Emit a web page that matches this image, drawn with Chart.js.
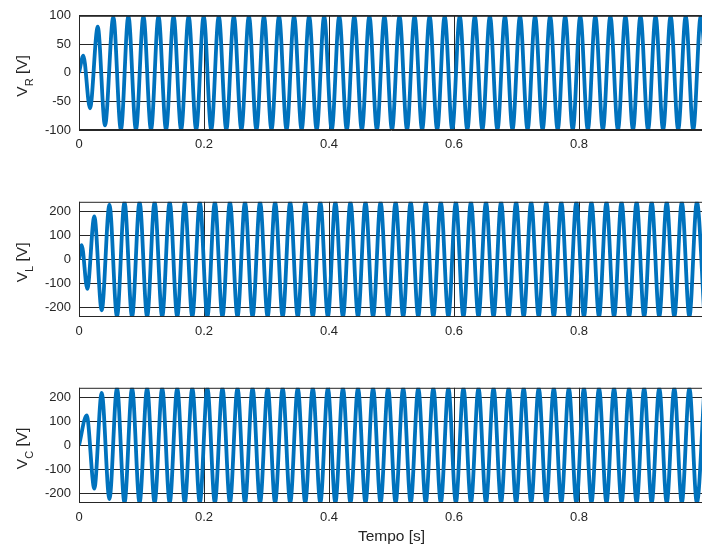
<!DOCTYPE html>
<html>
<head>
<meta charset="utf-8">
<script src="https://cdn.jsdelivr.net/npm/chart.js@4.4.1/dist/chart.umd.min.js"></script>
<style>
  html, body { margin: 0; padding: 0; background: #fff; overflow: hidden; width: 702px; height: 547px; }
  canvas { position: absolute; left: 0; }
</style>
</head>
<body>
<canvas id="chartR" width="720" height="165" style="top:0"></canvas>
<canvas id="chartL" width="720" height="166" style="top:186px"></canvas>
<canvas id="chartC" width="720" height="175" style="top:372px"></canvas>
<script>
// eixos
const xTicks = [0, 0.2, 0.4, 0.6, 0.8];
const yTicksR = [-100, -50, 0, 50, 100];
const yTicksLC = [-200, -100, 0, 100, 200];

// V_R: instantes dos picos/vales [s] e valores [V]
const timeR = [0, 0.0069, 0.0176, 0.0300, 0.0416,
  0.0549, 0.0670, 0.0790, 0.0911, 0.1031, 0.1152, 0.1272, 0.1393, 0.1513, 0.1634,
  0.1754, 0.1875, 0.1995, 0.2116, 0.2236, 0.2357, 0.2477, 0.2598, 0.2718, 0.2839,
  0.2959, 0.3080, 0.3200, 0.3321, 0.3441, 0.3562, 0.3682, 0.3803, 0.3923, 0.4044,
  0.4164, 0.4285, 0.4405, 0.4526, 0.4646, 0.4767, 0.4887, 0.5008, 0.5128, 0.5249,
  0.5369, 0.5490, 0.5610, 0.5731, 0.5851, 0.5972, 0.6092, 0.6213, 0.6333, 0.6454,
  0.6574, 0.6695, 0.6815, 0.6936, 0.7056, 0.7177, 0.7297, 0.7418, 0.7538, 0.7659,
  0.7779, 0.7900, 0.8020, 0.8141, 0.8261, 0.8382, 0.8502, 0.8623, 0.8743, 0.8864,
  0.8984, 0.9105, 0.9225, 0.9346, 0.9466, 0.9587, 0.9707, 0.9828, 0.9948, 1.0069];
const voltR = [0, 30, -62, 81, -92,
  98, -100, 100, -100, 100, -100, 100, -100, 100, -100,
  100, -100, 100, -100, 100, -100, 100, -100, 100, -100,
  100, -100, 100, -100, 100, -100, 100, -100, 100, -100,
  100, -100, 100, -100, 100, -100, 100, -100, 100, -100,
  100, -100, 100, -100, 100, -100, 100, -100, 100, -100,
  100, -100, 100, -100, 100, -100, 100, -100, 100, -100,
  100, -100, 100, -100, 100, -100, 100, -100, 100, -100,
  100, -100, 100, -100, 100, -100, 100, -100, 100, -100];

// V_L
const timeL = [0, 0.0043, 0.0133, 0.0245, 0.0363,
  0.0487, 0.0608, 0.0728, 0.0849, 0.0969, 0.1090, 0.1210, 0.1331, 0.1451, 0.1572,
  0.1692, 0.1813, 0.1933, 0.2054, 0.2174, 0.2295, 0.2415, 0.2536, 0.2656, 0.2777,
  0.2897, 0.3018, 0.3138, 0.3259, 0.3379, 0.3500, 0.3620, 0.3741, 0.3861, 0.3982,
  0.4102, 0.4223, 0.4343, 0.4464, 0.4584, 0.4705, 0.4825, 0.4946, 0.5066, 0.5187,
  0.5307, 0.5428, 0.5548, 0.5669, 0.5789, 0.5910, 0.6030, 0.6151, 0.6271, 0.6392,
  0.6512, 0.6633, 0.6753, 0.6874, 0.6994, 0.7115, 0.7235, 0.7356, 0.7476, 0.7597,
  0.7717, 0.7838, 0.7958, 0.8079, 0.8199, 0.8320, 0.8440, 0.8561, 0.8681, 0.8802,
  0.8922, 0.9043, 0.9163, 0.9284, 0.9404, 0.9525, 0.9645, 0.9766, 0.9886, 1.0007];
const voltL = [0, 59, -123, 179, -212,
  228, -239, 240, -240, 240, -240, 240, -240, 240, -240,
  240, -240, 240, -240, 240, -240, 240, -240, 240, -240,
  240, -240, 240, -240, 240, -240, 240, -240, 240, -240,
  240, -240, 240, -240, 240, -240, 240, -240, 240, -240,
  240, -240, 240, -240, 240, -240, 240, -240, 240, -240,
  240, -240, 240, -240, 240, -240, 240, -240, 240, -240,
  240, -240, 240, -240, 240, -240, 240, -240, 240, -240,
  240, -240, 240, -240, 240, -240, 240, -240, 240, -240];

// V_C
const timeC = [0, 0.0123, 0.0245, 0.0363,
  0.0487, 0.0608, 0.0728, 0.0849, 0.0969, 0.1090, 0.1210, 0.1331, 0.1451, 0.1572,
  0.1692, 0.1813, 0.1933, 0.2054, 0.2174, 0.2295, 0.2415, 0.2536, 0.2656, 0.2777,
  0.2897, 0.3018, 0.3138, 0.3259, 0.3379, 0.3500, 0.3620, 0.3741, 0.3861, 0.3982,
  0.4102, 0.4223, 0.4343, 0.4464, 0.4584, 0.4705, 0.4825, 0.4946, 0.5066, 0.5187,
  0.5307, 0.5428, 0.5548, 0.5669, 0.5789, 0.5910, 0.6030, 0.6151, 0.6271, 0.6392,
  0.6512, 0.6633, 0.6753, 0.6874, 0.6994, 0.7115, 0.7235, 0.7356, 0.7476, 0.7597,
  0.7717, 0.7838, 0.7958, 0.8079, 0.8199, 0.8320, 0.8440, 0.8561, 0.8681, 0.8802,
  0.8922, 0.9043, 0.9163, 0.9284, 0.9404, 0.9525, 0.9645, 0.9766, 0.9886, 1.0007];
const voltC = [0, 125, -180, 219,
  -224, 240, -240, 240, -240, 240, -240, 240, -240, 240,
  -240, 240, -240, 240, -240, 240, -240, 240, -240, 240,
  -240, 240, -240, 240, -240, 240, -240, 240, -240, 240,
  -240, 240, -240, 240, -240, 240, -240, 240, -240, 240,
  -240, 240, -240, 240, -240, 240, -240, 240, -240, 240,
  -240, 240, -240, 240, -240, 240, -240, 240, -240, 240,
  -240, 240, -240, 240, -240, 240, -240, 240, -240, 240,
  -240, 240, -240, 240, -240, 240, -240, 240, -240, 240];

const FONT = '"Liberation Sans", Arial, sans-serif';
const INK = '#262626';
Chart.defaults.font.family = FONT;
Chart.defaults.color = INK;

// moldura da caixa (estilo matlab)
const frame = {
  id: 'frame',
  afterDatasetsDraw(chart) {
    const { ctx, chartArea: a } = chart;
    ctx.save();
    ctx.strokeStyle = INK;
    ctx.lineWidth = 1;
    ctx.strokeRect(a.left + 0.5, a.top + 0.5, a.right - a.left - 1, a.bottom - a.top - 1);
    ctx.restore();
  }
};

// rotulo do eixo y com subscrito
function yLabel(sub) {
  return {
    id: 'ylabel',
    afterDraw(chart) {
      const { ctx, chartArea: a } = chart;
      const big = '15.5px ' + FONT, small = '11px ' + FONT;
      ctx.save();
      ctx.font = big;
      const wV = ctx.measureText('V').width;
      const wU = ctx.measureText(' [V]').width;
      ctx.font = small;
      const wS = ctx.measureText(sub).width;
      ctx.translate(27, (a.top + a.bottom) / 2 + 3);
      ctx.rotate(-Math.PI / 2);
      ctx.fillStyle = INK;
      ctx.textBaseline = 'alphabetic';
      let x = -(wV + wS + wU) / 2;
      ctx.font = big; ctx.fillText('V', x, 0); x += wV;
      ctx.font = small; ctx.fillText(sub, x, 5.5); x += wS;
      ctx.font = big; ctx.fillText(' [V]', x, 0);
      ctx.restore();
    }
  };
}

function makePanel(id, times, volts, lim, yTicks, sub, xHeight, xTitle) {
  new Chart(document.getElementById(id), {
    type: 'line',
    data: {
      datasets: [{
        data: times.map((t, i) => ({ x: t, y: volts[i] })),
        borderColor: '#0072BD',
        borderWidth: 3.8,
        pointRadius: 0,
        fill: false,
        cubicInterpolationMode: 'monotone'
      }]
    },
    options: {
      responsive: false,
      animation: false,
      layout: { padding: { top: 11, right: 16, left: 0, bottom: 0 } },
      plugins: { legend: { display: false }, tooltip: { enabled: false } },
      scales: {
        x: {
          type: 'linear', min: 0, max: 1,
          afterBuildTicks: s => { s.ticks = xTicks.concat([1]).map(v => ({ value: v })); },
          afterFit: s => { s.height = xHeight; },
          grid: { color: INK, lineWidth: 1, drawTicks: false },
          border: { display: false },
          ticks: { padding: 7, font: { size: 13 }, color: INK, maxRotation: 0, autoSkip: false,
                   callback: v => xTicks.includes(v) ? String(v) : '' },
          title: { display: !!xTitle, text: xTitle || '', font: { size: 15.5 }, color: INK, padding: { top: 0, bottom: 1 } }
        },
        y: {
          min: -lim, max: lim,
          afterBuildTicks: s => { s.ticks = yTicks.map(v => ({ value: v })); },
          afterFit: s => { s.width = 79; },
          grid: { color: INK, lineWidth: 1, drawTicks: false },
          border: { display: false },
          ticks: { padding: 8, font: { size: 13 }, color: INK, autoSkip: false, callback: v => String(v) }
        }
      }
    },
    plugins: [frame, yLabel(sub)]
  });
}

makePanel('chartR', timeR, voltR, 100, yTicksR, 'R', 35);
makePanel('chartL', timeL, voltL, 240, yTicksLC, 'L', 35);
makePanel('chartC', timeC, voltC, 240, yTicksLC, 'C', 44, 'Tempo [s]');
</script>
</body>
</html>
